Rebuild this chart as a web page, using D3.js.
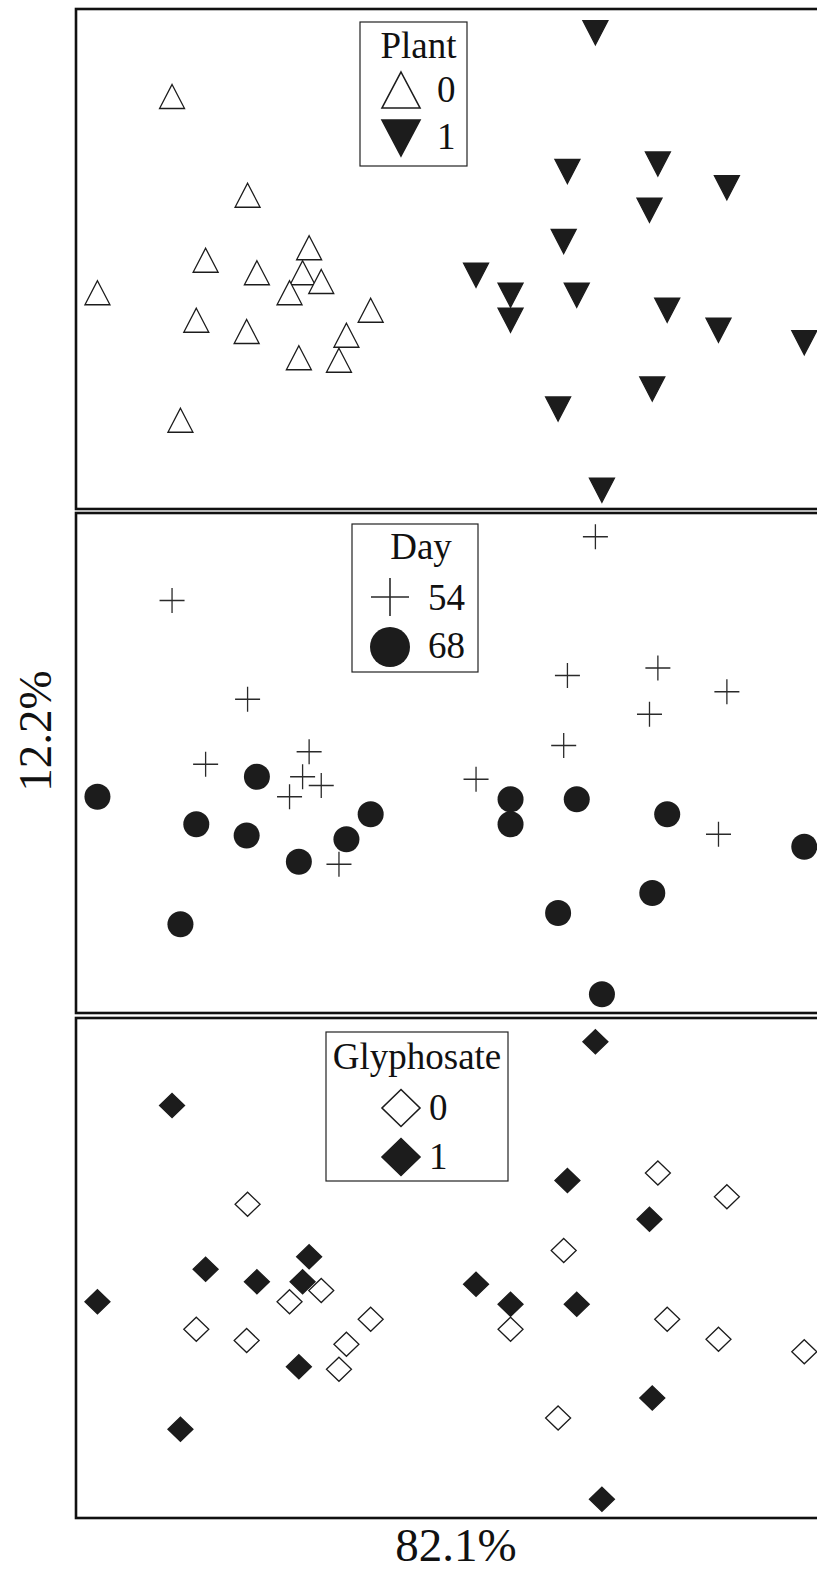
<!DOCTYPE html>
<html>
<head>
<meta charset="utf-8">
<script src="https://cdn.jsdelivr.net/npm/d3@7"></script>
<style>
  html, body { margin: 0; padding: 0; background: #fff; }
  svg { display: block; }
  text { font-family: "Liberation Serif", "DejaVu Serif", serif; fill: #111; }
</style>
</head>
<body>
<svg id="chart" width="817" height="1574"></svg>
<script>
// Ordination scores: 16 samples without the plant, then 16 with the plant
const pc1 = [
  -0.297, -0.216, -0.150, -0.261, -0.206, -0.157, -0.137, -0.377,
  -0.171, -0.084, -0.271, -0.217, -0.110, -0.161, -0.118, -0.288,
   0.157,  0.127,  0.224,  0.298,  0.215,  0.123,  0.029,  0.066,
   0.137,  0.066,  0.234,  0.289,  0.381,  0.218,  0.117,  0.164
];
const pc2 = [
   0.130,  0.051,  0.009, -0.001, -0.011, -0.011, -0.018, -0.027,
  -0.027, -0.041, -0.049, -0.058, -0.061, -0.079, -0.081, -0.129,
   0.181,  0.070,  0.076,  0.057,  0.039,  0.014, -0.013, -0.029,
  -0.029, -0.049, -0.041, -0.057, -0.067, -0.104, -0.120, -0.185
];
const plant = [
  0,0,0,0,0,0,0,0,0,0,0,0,0,0,0,0,
  1,1,1,1,1,1,1,1,1,1,1,1,1,1,1,1
];
const day = [
  54,54,54,54,68,54,54,68,54,68,68,68,68,68,54,68,
  54,54,54,54,54,54,54,68,68,68,68,54,68,68,68,68
];
const glyphosate = [
  1,0,1,1,1,1,0,1,0,0,0,0,0,1,0,1,
  1,1,0,0,1,0,1,1,1,0,0,0,0,1,0,1
];

const xDomain = [-0.40, 0.40];
const yDomain = [-0.20, 0.20];
const xAxisLabel = "82.1%";
const yAxisLabel = "12.2%";

const samples = pc1.map((v, i) => ({
  pc1: v, pc2: pc2[i], plant: plant[i], day: day[i], glyphosate: glyphosate[i]
}));

const svg = d3.select("#chart");
const ink = "#1c1c1c";

// Panel frame geometry
const left = 76, right = 822, panelH = 500;
const panelTops = [9, 513, 1018];

const x = d3.scaleLinear().domain(xDomain).range([left, right]);

// Marker shape paths, centred on their bounding box
const shapes = {
  triUp: (w, h) => `M0,${-h/2}L${w/2},${h/2}L${-w/2},${h/2}Z`,
  triDown: (w, h) => `M0,${h/2}L${w/2},${-h/2}L${-w/2},${-h/2}Z`,
  diamond: (w, h) => `M0,${-h/2}L${w/2},0L0,${h/2}L${-w/2},0Z`,
  plus: (w, h) => `M${-w/2},0H${w/2}M0,${-h/2}V${h/2}`,
  circle: (w) => d3.arc()({innerRadius: 0, outerRadius: w/2, startAngle: 0, endAngle: 2*Math.PI})
};

// Each panel encodes one factor
const panels = [
  {
    title: "Plant", key: "plant",
    levels: [
      {value: 0, label: "0", shape: "triUp", fill: "#fff", stroke: ink},
      {value: 1, label: "1", shape: "triDown", fill: ink, stroke: ink}
    ],
    size: [25, 24], legendSize: [38, 36],
    legend: {x: 360, y: 22, w: 107, h: 144, titleX: 418.5, titleY: 58, symX: 401, labelX: 437, rowY: [90, 138], rowBase: [102, 149]}
  },
  {
    title: "Day", key: "day",
    levels: [
      {value: 54, label: "54", shape: "plus", fill: "none", stroke: "#2a2a2a"},
      {value: 68, label: "68", shape: "circle", fill: ink, stroke: "none"}
    ],
    size: [25, 25], legendSize: [38, 38], legendCircle: 40,
    legend: {x: 352, y: 524, w: 126, h: 148, titleX: 421, titleY: 559, symX: 390, labelX: 428, rowY: [597, 647], rowBase: [610, 658]}
  },
  {
    title: "Glyphosate", key: "glyphosate",
    levels: [
      {value: 0, label: "0", shape: "diamond", fill: "#fff", stroke: ink},
      {value: 1, label: "1", shape: "diamond", fill: ink, stroke: ink}
    ],
    size: [25, 24], legendSize: [38, 37],
    legend: {x: 326, y: 1032, w: 182, h: 149, titleX: 417, titleY: 1069, symX: 401, labelX: 429, rowY: [1108, 1157], rowBase: [1120, 1169]}
  }
];

panels.forEach((p, pi) => {
  const top = panelTops[pi];
  const y = d3.scaleLinear().domain(yDomain).range([top + panelH, top]);
  const g = svg.append("g");

  // frame
  g.append("rect")
    .attr("x", left).attr("y", top)
    .attr("width", right - left).attr("height", panelH)
    .attr("fill", "none").attr("stroke", "#111").attr("stroke-width", 2.6);

  const styleOf = v => p.levels.find(l => l.value === v);

  g.selectAll("path.pt")
    .data(samples)
    .join("path")
    .attr("class", "pt")
    .attr("transform", d => `translate(${x(d.pc1)},${y(d.pc2)})`)
    .attr("d", d => {
      const s = styleOf(d[p.key]);
      return s.shape === "circle" ? shapes.circle(26) : shapes[s.shape](p.size[0], p.size[1]);
    })
    .attr("fill", d => styleOf(d[p.key]).fill)
    .attr("stroke", d => styleOf(d[p.key]).stroke)
    .attr("stroke-width", 1.3)
    .attr("stroke-linejoin", "miter");

  // legend
  const L = p.legend;
  const lg = svg.append("g");
  lg.append("rect")
    .attr("x", L.x).attr("y", L.y).attr("width", L.w).attr("height", L.h)
    .attr("fill", "#fff").attr("stroke", "#222").attr("stroke-width", 1.2);
  lg.append("text")
    .attr("x", L.titleX).attr("y", L.titleY)
    .attr("text-anchor", "middle").attr("font-size", 37)
    .text(p.title);
  p.levels.forEach((lv, k) => {
    lg.append("path")
      .attr("transform", `translate(${L.symX},${L.rowY[k]})`)
      .attr("d", lv.shape === "circle" ? shapes.circle(p.legendCircle) : shapes[lv.shape](p.legendSize[0], p.legendSize[1]))
      .attr("fill", lv.fill).attr("stroke", lv.stroke).attr("stroke-width", 1.6);
    lg.append("text")
      .attr("x", L.labelX).attr("y", L.rowBase[k])
      .attr("font-size", 37)
      .text(lv.label);
  });
});

// axis titles
svg.append("text")
  .attr("x", 456).attr("y", 1561)
  .attr("text-anchor", "middle").attr("font-size", 47)
  .text(xAxisLabel);
svg.append("text")
  .attr("transform", "translate(51,731) rotate(-90)")
  .attr("text-anchor", "middle").attr("font-size", 47)
  .text(yAxisLabel);
</script>
</body>
</html>
